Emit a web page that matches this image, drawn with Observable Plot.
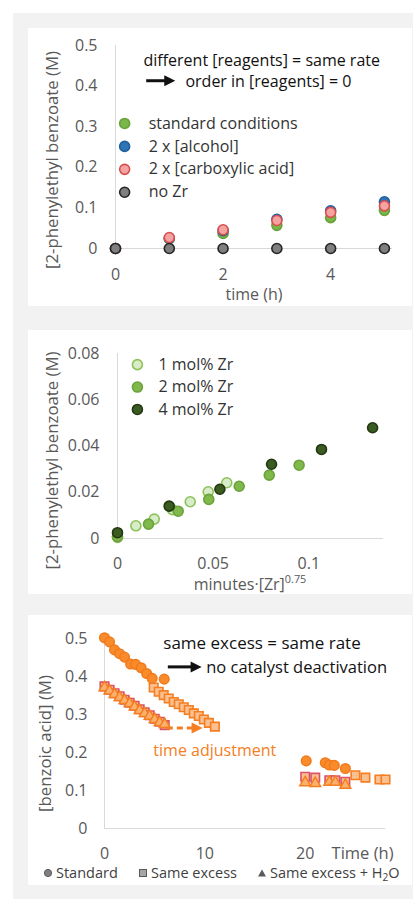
<!DOCTYPE html>
<html><head><meta charset="utf-8">
<script src="https://cdn.jsdelivr.net/npm/d3@7"></script>
<script src="https://cdn.jsdelivr.net/npm/@observablehq/plot@0.6"></script>
<style>
body{margin:0;background:#fff;font-family:"Open Sans",Lato,sans-serif;}
#bg{position:absolute;left:13px;top:13px;width:400px;height:886px;background:#f2f2f2;}
.box{position:absolute;left:28px;width:384px;background:#fff;}
.box svg{display:block;overflow:visible;}
.li{position:absolute;top:0;line-height:20px;white-space:nowrap;}
.li svg{display:inline-block;vertical-align:middle;margin-right:3px;margin-top:-2px;}
sub{font-size:0.7em;vertical-align:-0.25em;line-height:0;}
sup{font-size:0.68em;vertical-align:0.6em;line-height:0;}
</style></head><body>
<div id="bg"></div>
<div class="box" id="p1" style="top:28px;height:278px"></div>
<div class="box" id="p2" style="top:330px;height:264px"></div>
<div class="box" id="p3" style="top:615px;height:270px"></div>
<script>
// ---------- Panel 1 data ----------
const timeH = [0, 1, 2, 3, 4, 5];
const standardConditions = [0, 0.024, 0.037, 0.057, 0.076, 0.094];
const twoXAlcohol = [0, 0.025, 0.044, 0.072, 0.093, 0.115];
const twoXCarboxylic = [0, 0.027, 0.046, 0.069, 0.089, 0.105];
const noZr = [0, 0, 0, 0, 0, 0];
const series1Names = ["standard conditions", "2 x [alcohol]", "2 x [carboxylic acid]", "no Zr"];
const xTicks1 = [0, 2, 4];
const yTicks1 = [0, 0.1, 0.2, 0.3, 0.4, 0.5];

// ---------- Panel 2 data ----------
const zr1X = [0, 0.0096, 0.0192, 0.0287, 0.038, 0.0474, 0.0571];
const zr1Y = [0.0005, 0.0055, 0.0084, 0.0125, 0.0159, 0.0202, 0.0241];
const zr2X = [0, 0.0162, 0.0317, 0.0477, 0.0636, 0.0793, 0.0949];
const zr2Y = [0.0008, 0.0062, 0.0118, 0.0169, 0.0226, 0.0274, 0.0317];
const zr4X = [0, 0.027, 0.0535, 0.0805, 0.1066, 0.1333];
const zr4Y = [0.0025, 0.014, 0.0213, 0.0321, 0.0385, 0.0479];
const series2Names = ["1 mol% Zr", "2 mol% Zr", "4 mol% Zr"];
const xTicks2 = [0, 0.05, 0.1];
const yTicks2 = [0, 0.02, 0.04, 0.06, 0.08];

// ---------- Panel 3 data ----------
const standardT = [0, 0.5, 1, 1.5, 2, 2.6, 3.1, 3.65, 4.2, 4.75, 5.95, 20.1, 22.0, 22.4, 22.9, 24.0];
const standardY = [0.502, 0.491, 0.470, 0.460, 0.451, 0.433, 0.432, 0.423, 0.408, 0.395, 0.393, 0.178, 0.173, 0.167, 0.166, 0.158];
const sameExcessT = [0, 0.5, 1, 1.5, 2, 2.5, 3, 3.5, 4, 4.5, 5, 5.5, 6, 20, 21, 22.4, 23, 24];
const sameExcessY = [0.374, 0.365, 0.356, 0.348, 0.339, 0.331, 0.323, 0.314, 0.306, 0.298, 0.289, 0.281, 0.272, 0.136, 0.134, 0.127, 0.127, 0.123];
const sameExcessAdjT = [4.9, 5.4, 5.9, 6.4, 6.9, 7.4, 7.9, 8.4, 8.9, 9.4, 9.9, 10.4, 11.0, 25.0, 26.0, 27.4, 28.0];
const sameExcessAdjY = [0.371, 0.360, 0.351, 0.342, 0.333, 0.327, 0.319, 0.312, 0.303, 0.296, 0.287, 0.278, 0.268, 0.140, 0.134, 0.129, 0.129];
const waterT = [0, 0.5, 1, 1.5, 2, 2.5, 3, 3.5, 4, 4.5, 5, 5.5, 6, 20, 21, 22.4, 23, 24];
const waterY = [0.371, 0.362, 0.353, 0.345, 0.337, 0.329, 0.320, 0.311, 0.303, 0.296, 0.287, 0.279, 0.274, 0.121, 0.119, 0.122, 0.122, 0.114];
const xTicks3 = [0, 10, 20];
const yTicks3 = [0, 0.1, 0.2, 0.3, 0.4, 0.5];

// ---------- helpers ----------
const zip = (xs, ys) => xs.map((x, i) => ({x, y: ys[i]}));
const fmt = d => String(d);
const tickCol = "#595959";

function arrowMark(a, color, dashed) {
  return (index, scales) => {
    const x1 = scales.x(a.x1), x2 = scales.x(a.x2), y = scales.y(a.y);
    const g = d3.create("svg:g");
    g.append("line").attr("x1", x1).attr("x2", x2 - 8).attr("y1", y).attr("y2", y)
      .attr("stroke", color).attr("stroke-width", 3)
      .attr("stroke-dasharray", dashed ? "6,4" : null);
    g.append("path").attr("d", `M${x2},${y}L${x2 - 11},${y - 5.5}L${x2 - 11},${y + 5.5}Z`).attr("fill", color);
    return g.node();
  };
}
const baseStyle = {fontFamily: "'Open Sans', Lato, sans-serif", fontSize: "16px", color: tickCol, background: "transparent", overflow: "visible"};
const yTitle = (txt, dx, dy) => Plot.text([txt], {frameAnchor: "left", rotate: -90, dx, dy, textAnchor: "middle", lineAnchor: "middle", fill: tickCol, fontSize: 16.8});

// ---------- Panel 1 ----------
{
  const fills = ["#7ab648", "#2e75b6", "#f4a3a3", "#7f7f7f"];
  const strokes = ["#68a23a", "#21609e", "#d94f4f", "#262626"];
  const seriesVals = [standardConditions, twoXAlcohol, twoXCarboxylic, noZr];
  const legX = 0.17, legTop = 0.308, legStep = 0.0565;
  const legend = series1Names.map((name, i) => ({name, i, x: legX, y: legTop - i * legStep}));
  const plot = Plot.plot({
    width: 384, height: 278,
    marginLeft: 87, marginRight: 20, marginTop: 17, marginBottom: 58,
    style: baseStyle,
    x: {domain: [0, 5.15]},
    y: {domain: [0, 0.5]},
    marks: [
      Plot.ruleX([0], {stroke: "#d9d9d9", strokeWidth: 1}),
      Plot.ruleY([0], {stroke: "#d9d9d9", strokeWidth: 1}),
      Plot.axisX({ticks: xTicks1, tickSize: 0, tickPadding: 20, tickFormat: fmt, label: null, fill: tickCol}),
      Plot.axisY({ticks: yTicks1, tickSize: 0, tickPadding: 18, tickFormat: fmt, label: null, fill: tickCol}),
      yTitle("[2-phenylethyl benzoate (M)", -63, 13),
      Plot.text(["time (h)"], {frameAnchor: "bottom", dy: 46, lineAnchor: "middle", fill: tickCol}),
      ...seriesVals.map((vals, s) => Plot.dot(zip(timeH, vals), {x: "x", y: "y", r: 5, fill: fills[s], stroke: strokes[s], strokeWidth: 1.6})),
      ...legend.map(d => Plot.dot([d], {x: "x", y: "y", r: 5, fill: fills[d.i], stroke: strokes[d.i], strokeWidth: 1.6})),
      Plot.text(legend, {x: "x", y: "y", text: "name", dx: 24, textAnchor: "start", fill: "#333", fontSize: 16}),
      Plot.text([{x: 0.52, y: 0.461, t: "different [reagents] = same rate"}], {x: "x", y: "y", text: "t", textAnchor: "start", fill: "#111"}),
      arrowMark({x1: 0.58, x2: 1.12, y: 0.412}, "#111", false),
      Plot.text([{x: 1.30, y: 0.411, t: "order in [reagents] = 0"}], {x: "x", y: "y", text: "t", textAnchor: "start", fill: "#111"})
    ]
  });
  document.getElementById("p1").appendChild(plot);
}

// ---------- Panel 2 ----------
{
  const fills = ["#d9ecc9", "#80b84c", "#3a5c22"];
  const strokes = ["#8dc25a", "#6aa23b", "#22380f"];
  const xs = [zr1X, zr2X, zr4X], ys = [zr1Y, zr2Y, zr4Y];
  const legX = 0.0104, legTop = 0.0752, legStep = 0.0097;
  const legend = series2Names.map((name, i) => ({name, i, x: legX, y: legTop - i * legStep}));
  const plot = Plot.plot({
    width: 384, height: 264,
    marginLeft: 89, marginRight: 29, marginTop: 23, marginBottom: 56,
    style: baseStyle,
    x: {domain: [0, 0.139]},
    y: {domain: [0, 0.08]},
    marks: [
      Plot.ruleX([0], {stroke: "#d9d9d9"}),
      Plot.ruleY([0], {stroke: "#d9d9d9"}),
      Plot.axisX({ticks: xTicks2, tickSize: 0, tickPadding: 19, tickFormat: fmt, label: null, fill: tickCol}),
      Plot.axisY({ticks: yTicks2, tickSize: 0, tickPadding: 18, tickFormat: fmt, label: null, fill: tickCol}),
      yTitle("[2-phenylethyl benzoate (M)", -65, 14.5),
      ...xs.map((xv, s) => Plot.dot(zip(xv, ys[s]), {x: "x", y: "y", r: 5, fill: fills[s], stroke: strokes[s], strokeWidth: 1.6})),
      ...legend.map(d => Plot.dot([d], {x: "x", y: "y", r: 5, fill: fills[d.i], stroke: strokes[d.i], strokeWidth: 1.6})),
      Plot.text(legend, {x: "x", y: "y", text: "name", dx: 21, textAnchor: "start", fill: "#333", fontSize: 16})
    ]
  });
  const box = document.getElementById("p2");
  box.appendChild(plot);
  const t = document.createElement("div");
  t.style.cssText = "position:absolute;left:122px;width:200px;top:246px;text-align:center;font-size:16px;line-height:16px;color:#595959;";
  t.innerHTML = "minutes·[Zr]<sup>0.75</sup>";
  box.appendChild(t);
}

// ---------- Panel 3 ----------
{
  const plot = Plot.plot({
    width: 384, height: 248,
    marginLeft: 76, marginRight: 27, marginTop: 23, marginBottom: 35,
    style: baseStyle,
    x: {domain: [0, 28]},
    y: {domain: [0, 0.5]},
    marks: [
      Plot.ruleX([0], {stroke: "#d9d9d9"}),
      Plot.ruleY([0], {stroke: "#d9d9d9"}),
      Plot.axisX({ticks: xTicks3, tickSize: 0, tickPadding: 19, tickFormat: fmt, label: null, fill: tickCol}),
      Plot.axisY({ticks: yTicks3, tickSize: 0, tickPadding: 17, tickFormat: fmt, label: null, fill: tickCol}),
      yTitle("[benzoic acid] (M)", -59, 10),
      Plot.text(["Time (h)"], {frameAnchor: "bottom-right", dx: 8, dy: 25, textAnchor: "end", lineAnchor: "middle", fill: tickCol, fontSize: 16.5}),
      Plot.dot(zip(sameExcessT, sameExcessY), {x: "x", y: "y", symbol: "square", r: 4.8, fill: "#fbc08f", stroke: "#d9536a", strokeWidth: 1.6}),
      Plot.dot(zip(waterT, waterY), {x: "x", y: "y", symbol: "triangle", r: 4, fill: "#fbb06c", stroke: "#f57e22", strokeWidth: 1.5}),
      Plot.dot(zip(sameExcessAdjT, sameExcessAdjY), {x: "x", y: "y", symbol: "square", r: 4.8, fill: "#fbc08f", stroke: "#f57e22", strokeWidth: 1.6}),
      Plot.dot(zip(standardT, standardY), {x: "x", y: "y", r: 4.8, fill: "#f98b2b", stroke: "#f07a1d", strokeWidth: 1.5}),
      Plot.text([{x: 5.86, y: 0.487, t: "same excess = same rate"}], {x: "x", y: "y", text: "t", textAnchor: "start", fill: "#111", fontSize: 17}),
      arrowMark({x1: 6.36, x2: 9.73, y: 0.424}, "#111", false),
      Plot.text([{x: 10.13, y: 0.424, t: "no catalyst deactivation"}], {x: "x", y: "y", text: "t", textAnchor: "start", fill: "#111", fontSize: 16.5}),
      arrowMark({x1: 6.26, x2: 9.83, y: 0.263}, "#f57e22", true),
      Plot.text([{x: 4.87, y: 0.205, t: "time adjustment"}], {x: "x", y: "y", text: "t", textAnchor: "start", fill: "#f57e22"})
    ]
  });
  const box = document.getElementById("p3");
  box.appendChild(plot);
  const leg = document.createElement("div");
  leg.style.cssText = "position:absolute;left:0;top:248px;width:384px;height:22px;font-size:14.5px;color:#404040;";
  leg.innerHTML =
    '<span class="li" style="left:15px"><svg width="10" height="10"><circle cx="5" cy="5" r="3.6" fill="#7f7f7f" stroke="#595959" stroke-width="1"/></svg>Standard</span>' +
    '<span class="li" style="left:110px"><svg width="10" height="10"><rect x="1.5" y="1.5" width="7" height="7" fill="#a6a6a6" stroke="#595959" stroke-width="1"/></svg>Same excess</span>' +
    '<span class="li" style="left:229px"><svg width="10" height="10"><path d="M5,1.5L9,8.5L1,8.5Z" fill="#595959"/></svg>Same excess + H<sub>2</sub>O</span>';
  box.appendChild(leg);
}
</script>
</body></html>
